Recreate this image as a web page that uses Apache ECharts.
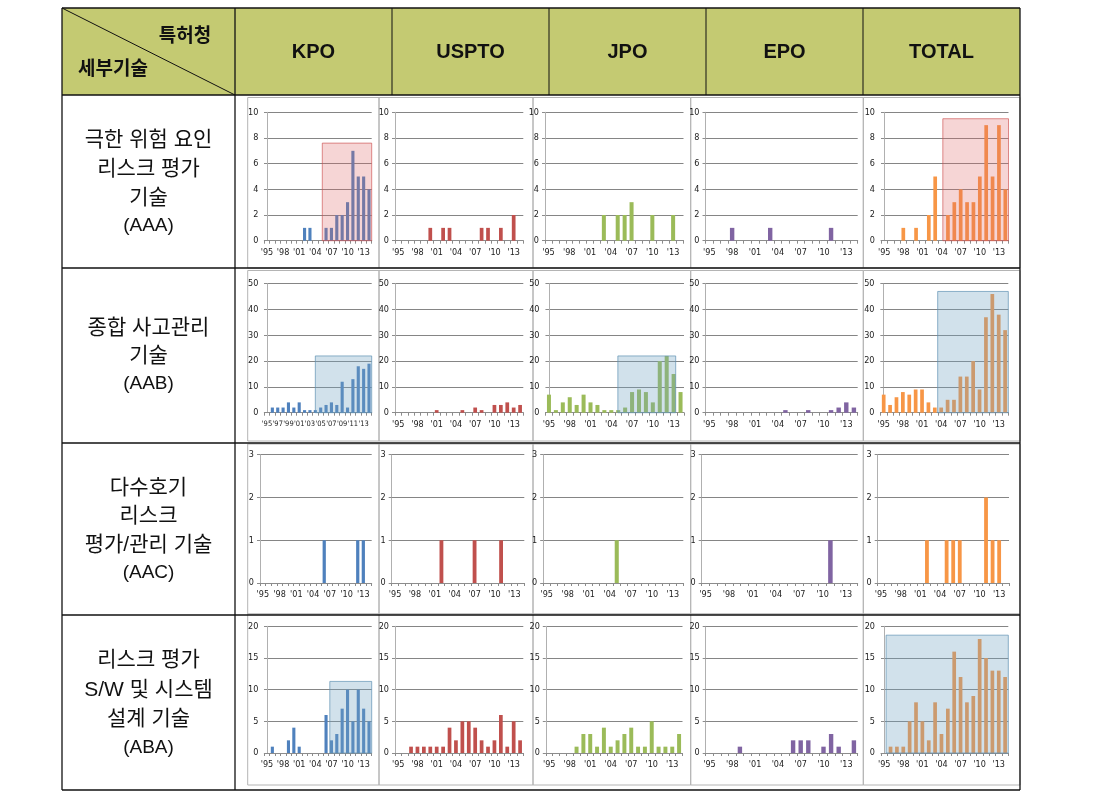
<!DOCTYPE html>
<html><head><meta charset="utf-8">
<script src="https://cdn.jsdelivr.net/npm/echarts@6/dist/echarts.min.js"></script>
<style>html,body{margin:0;padding:0;background:#fff}#c{width:1113px;height:799px}</style>
</head><body><div id="c"></div>
<script>
// ---- data ----
const years = ["'95","'96","'97","'98","'99","'00","'01","'02","'03","'04","'05","'06","'07","'08","'09","'10","'11","'12","'13","'14"];
const offices = ['KPO','USPTO','JPO','EPO','TOTAL'];
const officeColors = ['#4f81bd','#c0504d','#9bbb59','#8064a2','#f79646'];
const techLines = [
  ['극한 위험 요인','리스크 평가','기술','(AAA)'],
  ['종합 사고관리','기술','(AAB)'],
  ['다수호기','리스크','평가/관리 기술','(AAC)'],
  ['리스크 평가','S/W 및 시스템','설계 기술','(ABA)']
];
const yMax = [10, 50, 3, 20];
const yStep = [2, 10, 1, 5];

const AAA_KPO   = [0,0,0,0,0,0,0,1,1,0,0,1,1,2,2,3,7,5,5,4];
const AAA_USPTO = [0,0,0,0,0,1,0,1,1,0,0,0,0,1,1,0,1,0,2,0];
const AAA_JPO   = [0,0,0,0,0,0,0,0,2,0,2,2,3,0,0,2,0,0,2,0];
const AAA_EPO   = [0,0,0,1,0,0,0,0,1,0,0,0,0,0,0,0,1,0,0,0];
const AAA_TOTAL = [0,0,0,1,0,1,0,2,5,0,2,3,4,3,3,5,9,5,9,4];

const AAB_KPO   = [0,2,2,2,4,2,4,1,1,1,2,3,4,3,12,2,13,18,17,19];
const AAB_USPTO = [0,0,0,0,0,0,1,0,0,0,1,0,2,1,0,3,3,4,2,3];
const AAB_JPO   = [7,1,4,6,3,7,4,3,1,1,1,2,8,9,8,4,20,22,15,8];
const AAB_EPO   = [0,0,0,0,0,0,0,0,0,0,1,0,0,1,0,0,1,2,4,2];
const AAB_TOTAL = [7,3,6,8,7,9,9,4,2,2,5,5,14,14,20,9,37,46,38,32];

const AAC_KPO   = [0,0,0,0,0,0,0,0,0,0,0,1,0,0,0,0,0,1,1,0];
const AAC_USPTO = [0,0,0,0,0,0,0,1,0,0,0,0,1,0,0,0,1,0,0,0];
const AAC_JPO   = [0,0,0,0,0,0,0,0,0,0,1,0,0,0,0,0,0,0,0,0];
const AAC_EPO   = [0,0,0,0,0,0,0,0,0,0,0,0,0,0,0,0,1,0,0,0];
const AAC_TOTAL = [0,0,0,0,0,0,0,1,0,0,1,1,1,0,0,0,2,1,1,0];

const ABA_KPO   = [0,1,0,0,2,4,1,0,0,0,0,6,2,3,7,10,5,10,7,5];
const ABA_USPTO = [0,0,1,1,1,1,1,1,4,2,5,5,4,2,1,2,6,1,5,2];
const ABA_JPO   = [0,0,0,0,1,3,3,1,4,1,2,3,4,1,1,5,1,1,1,3];
const ABA_EPO   = [0,0,0,0,1,0,0,0,0,0,0,2,2,2,0,1,3,1,0,2];
const ABA_TOTAL = [0,1,1,1,5,8,5,2,8,3,7,16,12,8,9,18,15,13,13,12];

const table = [
  [AAA_KPO,AAA_USPTO,AAA_JPO,AAA_EPO,AAA_TOTAL],
  [AAB_KPO,AAB_USPTO,AAB_JPO,AAB_EPO,AAB_TOTAL],
  [AAC_KPO,AAC_USPTO,AAC_JPO,AAC_EPO,AAC_TOTAL],
  [ABA_KPO,ABA_USPTO,ABA_JPO,ABA_EPO,ABA_TOTAL]
];
// highlight boxes: [row, col, fromIndex, toIndex, top, kind]
const highlights = [
  [0,0,10.3,19.5,7.6,'pink'],
  [0,4,9.2,19.5,9.5,'pink'],
  [1,0,9.0,19.5,22,'blue'],
  [1,2,9.95,18.3,22,'blue'],
  [1,4,8.45,19.5,47,'blue'],
  [3,0,11.7,19.5,11.3,'blue'],
  [3,4,0.3,19.5,18.6,'blue']
];

// ---- layout ----
const colL = [[264.3,395,545,705.5,881],[264.3,395,545.5,705.5,880.5],[260,391.7,543.2,701.7,877.7],[264.3,395,545.8,705.7,881]];
const colR = [[371.7,523.3,683.5,857.7,1008.5],[371.7,523.3,684,857.7,1008.3],[371.7,524.3,683.3,857.7,1009],[371.7,523.3,682.5,857.7,1008.3]];
const rowT = [112.3,283.7,454.7,626.3];
const rowB = [240.7,412.7,583,753];
const tableX = [62,235,392,549,706,863,1020];
const tableY = [8,95,268,443,615,790];
const boxX = [247.7,379,533,690.7,863.3,1020];
const boxY = [[97.5,268],[270.5,441],[444,614],[614,785]];
const headerBg = '#c4ca72';
const fills = {pink:['rgba(222,100,100,0.27)','rgba(205,80,80,0.65)'], blue:['rgba(115,165,195,0.33)','rgba(95,145,180,0.7)']};

const grids=[], xAxes=[], yAxes=[], series=[];
const labelFont = '"Liberation Sans Narrow","DejaVu Sans Condensed","Liberation Sans",sans-serif';
let k=0;
const idx = {};
for (let r=0;r<4;r++) for (let c=0;c<5;c++) {
  idx[r+'_'+c]=k;
  const step = (r===1&&c===0) ? 2 : 3;
  grids.push({left:colL[r][c], top:rowT[r], width:colR[r][c]-colL[r][c], height:rowB[r]-rowT[r]});
  xAxes.push({type:'category', gridIndex:k, data:years, boundaryGap:true,
    axisLine:{show:true,lineStyle:{color:'#8c8c8c',width:1}},
    axisTick:{show:true,length:3,interval:0,lineStyle:{color:'#8c8c8c'}},
    axisLabel:{interval:0, formatter:(v,i)=> (i%step===0 ? v : ''),
      fontSize:step===2?7.5:9, color:'#222', margin:7, fontFamily:labelFont,
      hideOverlap:false, showMinLabel:true, showMaxLabel:true}});
  yAxes.push({type:'value', gridIndex:k, min:0, max:yMax[r], interval:yStep[r],
    axisLine:{show:true,lineStyle:{color:'#b0b0b0'}},
    axisTick:{show:true,length:3,lineStyle:{color:'#8c8c8c'}},
    splitLine:{show:true,lineStyle:{color:'#858585',width:1}},
    axisLabel:{fontSize:9,color:'#222',margin:6,fontFamily:labelFont}});
  series.push({type:'bar', xAxisIndex:k, yAxisIndex:k, data:table[r][c], barWidth:'58%',
    itemStyle:{color:officeColors[c]}, silent:true, z:2});
  k++;
}
highlights.forEach((h,i)=>{
  const g = idx[h[0]+'_'+h[1]];
  const xi = xAxes.length;
  xAxes.push({type:'value', gridIndex:g, min:-0.5, max:19.5, show:false, splitLine:{show:false}});
  series.push({type:'scatter', xAxisIndex:xi, yAxisIndex:g, data:[], z:5, silent:true,
    markArea:{silent:true, z:5, itemStyle:{color:fills[h[5]][0], borderColor:fills[h[5]][1], borderWidth:1},
      data:[[{coord:[h[2],0]},{coord:[h[3],h[4]]}]]}});
});

// ---- table graphics ----
const gr = [];
gr.push({type:'rect', shape:{x:tableX[0],y:tableY[0],width:tableX[6]-tableX[0],height:tableY[1]-tableY[0]}, style:{fill:headerBg}, z:-10});
for (let r=0;r<4;r++) for (let c=0;c<5;c++) {
  gr.push({type:'rect', shape:{x:boxX[c],y:boxY[r][0],width:boxX[c+1]-boxX[c],height:boxY[r][1]-boxY[r][0]}, style:{fill:null,stroke:'#b4b4b4',lineWidth:1}, z:-5});
}
tableY.forEach(y=>gr.push({type:'line', shape:{x1:tableX[0],y1:y,x2:tableX[6],y2:y}, style:{stroke:'#111',lineWidth:1.3}, z:10}));
[0,1,6].forEach(i=>gr.push({type:'line', shape:{x1:tableX[i],y1:tableY[0],x2:tableX[i],y2:tableY[5]}, style:{stroke:'#111',lineWidth:1.3}, z:10}));
[2,3,4,5].forEach(i=>gr.push({type:'line', shape:{x1:tableX[i],y1:tableY[0],x2:tableX[i],y2:tableY[1]}, style:{stroke:'#111',lineWidth:1}, z:10}));
gr.push({type:'line', shape:{x1:tableX[0],y1:tableY[0],x2:tableX[1],y2:tableY[1]}, style:{stroke:'#111',lineWidth:1}, z:10});
gr.push({type:'text', style:{text:'특허청', x:185, y:35, align:'center', verticalAlign:'middle', font:'bold 19px "Noto Sans CJK KR", sans-serif', fill:'#111'}, z:11});
gr.push({type:'text', style:{text:'세부기술', x:113, y:68, align:'center', verticalAlign:'middle', font:'bold 19px "Noto Sans CJK KR", sans-serif', fill:'#111'}, z:11});
offices.forEach((o,i)=>gr.push({type:'text', style:{text:o, x:(tableX[i+1]+tableX[i+2])/2, y:52, align:'center', verticalAlign:'middle', font:'bold 20px "Liberation Sans", sans-serif', fill:'#111'}, z:11}));
const lineY = [[140,169,198,226],[328,356,384],[488,516,545,573],[660,690,719,748]];
techLines.forEach((lines,r)=>lines.forEach((t,j)=>{
  const latin = /^\(/.test(t);
  gr.push({type:'text', style:{text:t, x:148.5, y:lineY[r][j], align:'center', verticalAlign:'middle',
    font:(latin?'19px':'21px')+' "Liberation Sans","Noto Sans CJK KR", sans-serif', fill:'#111'}, z:11});
}));

const chart = echarts.init(document.getElementById('c'), null, {renderer:'canvas', width:1113, height:799});
chart.setOption({animation:false, backgroundColor:'#fff', grid:grids, xAxis:xAxes, yAxis:yAxes, series:series, graphic:{elements:gr}});
</script></body></html>
